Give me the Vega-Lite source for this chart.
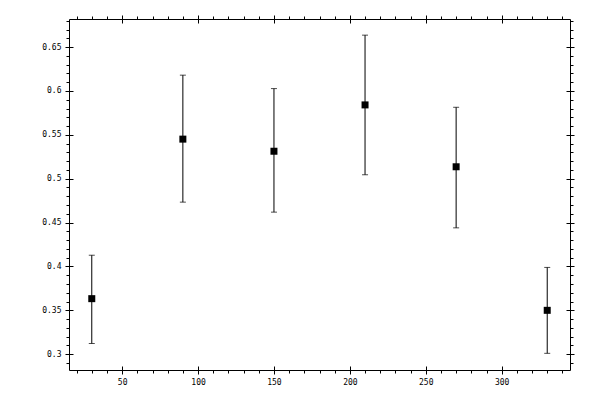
{
  "$schema": "https://vega.github.io/schema/vega-lite/v6.json",
  "width": 501,
  "height": 351,
  "autosize": "none",
  "padding": {"left": 69, "top": 19, "right": 30, "bottom": 30},
  "background": "white",
  "data": {
    "values": [
      {"x": 30, "y": 0.3633, "lo": 0.3122, "hi": 0.4128},
      {"x": 90, "y": 0.5451, "lo": 0.4733, "hi": 0.618},
      {"x": 150, "y": 0.5313, "lo": 0.4619, "hi": 0.6027},
      {"x": 210, "y": 0.5841, "lo": 0.5045, "hi": 0.6636},
      {"x": 270, "y": 0.5136, "lo": 0.444, "hi": 0.5814},
      {"x": 330, "y": 0.35, "lo": 0.301, "hi": 0.3989}
    ]
  },
  "layer": [
    {
      "mark": {"type": "rule", "color": "black", "strokeWidth": 1},
      "encoding": {
        "x": {
          "field": "x", "type": "quantitative",
          "scale": {"domain": [15, 345], "nice": false, "zero": false},
          "axis": {
            "orient": "bottom", "title": null, "labels": false, "grid": false,
            "values": [20, 30, 40, 50, 60, 70, 80, 90, 100, 110, 120, 130, 140, 150, 160, 170, 180, 190, 200, 210, 220, 230, 240, 250, 260, 270, 280, 290, 300, 310, 320, 330, 340],
            "tickSize": 3, "domain": true
          }
        },
        "y": {
          "field": "lo", "type": "quantitative",
          "scale": {"domain": [0.282, 0.682], "nice": false, "zero": false},
          "axis": {
            "orient": "left", "title": null, "labels": false, "grid": false,
            "values": [0.29, 0.3, 0.31, 0.32, 0.33, 0.34, 0.35, 0.36, 0.37, 0.38, 0.39, 0.4, 0.41, 0.42, 0.43, 0.44, 0.45, 0.46, 0.47, 0.48, 0.49, 0.5, 0.51, 0.52, 0.53, 0.54, 0.55, 0.56, 0.57, 0.58, 0.59, 0.6, 0.61, 0.62, 0.63, 0.64, 0.65, 0.66, 0.67, 0.68],
            "tickSize": 3, "domain": true
          }
        },
        "y2": {"field": "hi"}
      }
    },
    {
      "mark": {"type": "tick", "orient": "horizontal", "color": "black", "size": 6, "thickness": 1},
      "encoding": {
        "x": {
          "field": "x", "type": "quantitative",
          "scale": {"domain": [15, 345], "nice": false, "zero": false},
          "axis": {
            "orient": "top", "title": null, "labels": false, "grid": false,
            "values": [20, 30, 40, 50, 60, 70, 80, 90, 100, 110, 120, 130, 140, 150, 160, 170, 180, 190, 200, 210, 220, 230, 240, 250, 260, 270, 280, 290, 300, 310, 320, 330, 340],
            "tickSize": 3, "domain": true
          }
        },
        "y": {
          "field": "lo", "type": "quantitative",
          "scale": {"domain": [0.282, 0.682], "nice": false, "zero": false},
          "axis": {
            "orient": "right", "title": null, "labels": false, "grid": false,
            "values": [0.29, 0.3, 0.31, 0.32, 0.33, 0.34, 0.35, 0.36, 0.37, 0.38, 0.39, 0.4, 0.41, 0.42, 0.43, 0.44, 0.45, 0.46, 0.47, 0.48, 0.49, 0.5, 0.51, 0.52, 0.53, 0.54, 0.55, 0.56, 0.57, 0.58, 0.59, 0.6, 0.61, 0.62, 0.63, 0.64, 0.65, 0.66, 0.67, 0.68],
            "tickSize": 3, "domain": true
          }
        }
      }
    },
    {
      "mark": {"type": "tick", "orient": "horizontal", "color": "black", "size": 6, "thickness": 1},
      "encoding": {
        "x": {
          "field": "x", "type": "quantitative",
          "scale": {"domain": [15, 345], "nice": false, "zero": false},
          "axis": {
            "orient": "top", "title": null, "labels": false, "grid": false,
            "values": [50, 100, 150, 200, 250, 300],
            "tickSize": 8, "offset": -4, "domain": false
          }
        },
        "y": {
          "field": "hi", "type": "quantitative",
          "scale": {"domain": [0.282, 0.682], "nice": false, "zero": false},
          "axis": {
            "orient": "right", "title": null, "labels": false, "grid": false,
            "values": [0.3, 0.35, 0.4, 0.45, 0.5, 0.55, 0.6, 0.65],
            "tickSize": 8, "offset": -4, "domain": false
          }
        }
      }
    },
    {
      "mark": {"type": "point", "shape": "square", "filled": true, "color": "black", "size": 49, "opacity": 1},
      "encoding": {
        "x": {
          "field": "x", "type": "quantitative",
          "scale": {"domain": [15, 345], "nice": false, "zero": false},
          "axis": {
            "orient": "bottom", "title": null, "grid": false, "format": "d",
            "values": [50, 100, 150, 200, 250, 300],
            "tickSize": 8, "offset": -4, "domain": false, "labelPadding": 4
          }
        },
        "y": {
          "field": "y", "type": "quantitative",
          "scale": {"domain": [0.282, 0.682], "nice": false, "zero": false},
          "axis": {
            "orient": "left", "title": null, "grid": false, "format": "~g",
            "values": [0.3, 0.35, 0.4, 0.45, 0.5, 0.55, 0.6, 0.65],
            "tickSize": 8, "offset": -4, "domain": false, "labelPadding": 4
          }
        }
      }
    }
  ],
  "resolve": {"axis": {"x": "independent", "y": "independent"}},
  "config": {
    "view": {"stroke": null},
    "axis": {
      "domainColor": "black", "tickColor": "black", "domainWidth": 1, "tickWidth": 1,
      "labelFont": "DejaVu Sans Mono", "labelFontSize": 8, "labelColor": "black",
      "labelFlush": false, "labelOverlap": false
    }
  }
}
